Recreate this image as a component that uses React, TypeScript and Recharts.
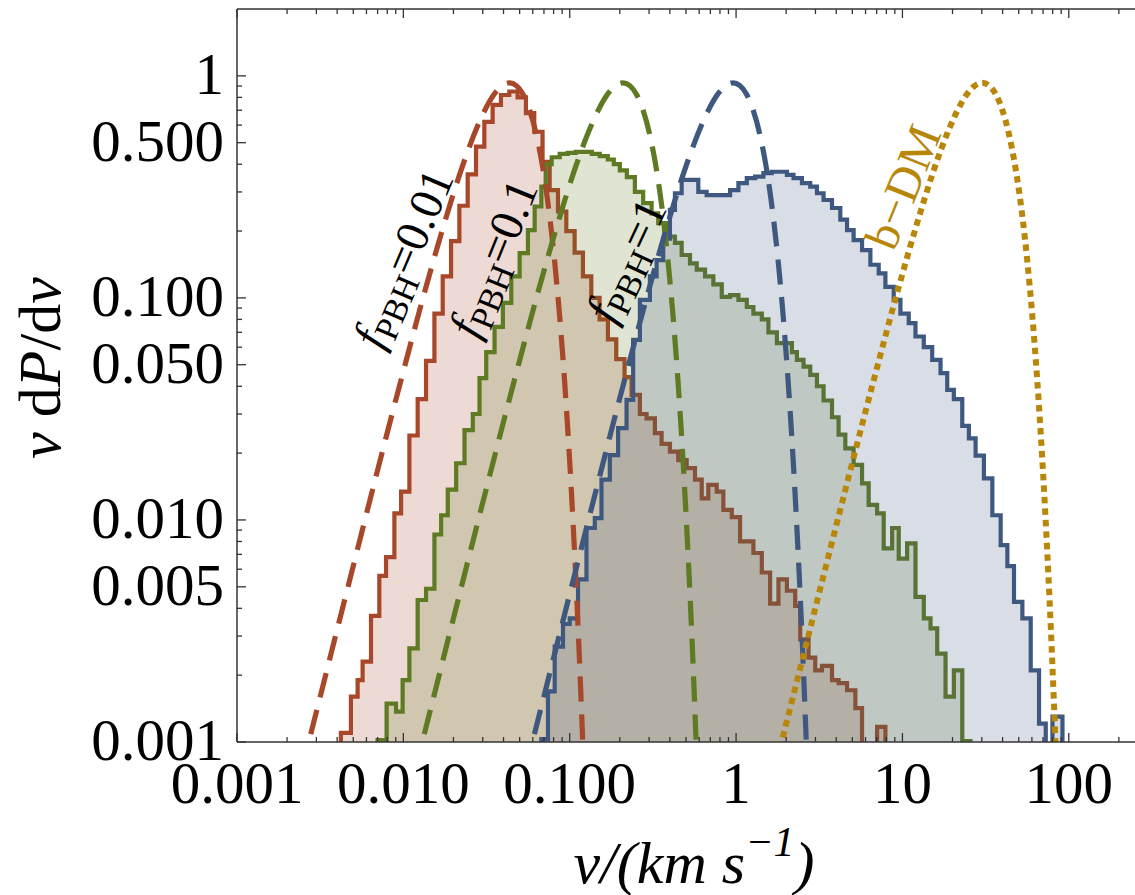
import { ComposedChart, Area, Line, XAxis, YAxis } from 'recharts';

const FONT = '"Liberation Serif", "Times New Roman", serif';
const RED = '#A8472A';
const GREEN = '#5E7A22';
const BLUE = '#3F5880';
const GOLD = '#B8870A';
const AXIS = '#333333';

// axis ticks
const xMajor = [0.001, 0.01, 0.1, 1, 10, 100];
const xMajorLabels = ['0.001', '0.010', '0.100', '1', '10', '100'];
const xMinor = [
  0.002, 0.003, 0.004, 0.005, 0.006, 0.007, 0.008, 0.009,
  0.02, 0.03, 0.04, 0.05, 0.06, 0.07, 0.08, 0.09,
  0.2, 0.3, 0.4, 0.5, 0.6, 0.7, 0.8, 0.9,
  2, 3, 4, 5, 6, 7, 8, 9,
  20, 30, 40, 50, 60, 70, 80, 90, 200,
];
const yMajor = [0.001, 0.005, 0.01, 0.05, 0.1, 0.5, 1];
const yMajorLabels = ['0.001', '0.005', '0.010', '0.050', '0.100', '0.500', '1'];
const yMinor = [
  0.002, 0.003, 0.004, 0.006, 0.007, 0.008, 0.009,
  0.02, 0.03, 0.04, 0.06, 0.07, 0.08, 0.09,
  0.2, 0.3, 0.4, 0.6, 0.7, 0.8, 0.9,
];

// histogram f_PBH = 0.01 (bin left edges, heights)
const redEdges = [
  0.00421, 0.00421, 0.00484, 0.00531, 0.00569, 0.00639, 0.00717, 0.00787, 0.00883, 0.00969,
  0.01087, 0.01219, 0.01369, 0.01537, 0.01724, 0.01935, 0.02171, 0.02436, 0.02733, 0.03067,
  0.03441, 0.03861, 0.04332, 0.04861, 0.05454, 0.06119, 0.06866, 0.07576, 0.08501, 0.09539,
  0.107, 0.1201, 0.1348, 0.1512, 0.1697, 0.1904, 0.2136, 0.2354, 0.2641, 0.2897,
  0.3251, 0.3567, 0.4003, 0.4491, 0.5047, 0.5662, 0.6216, 0.681, 0.765, 0.8385,
  0.9421, 1.057, 1.271, 1.428, 1.602, 1.798, 2.021, 2.267, 2.43, 2.726,
  2.991, 3.283, 3.772, 4.133, 4.645, 5.212, 5.718, 7.041, 7.9,
];
const redValues = [
  0.0001, 0.0011, 0.0016, 0.0019, 0.0023, 0.0037, 0.0056, 0.0068, 0.0107, 0.0134,
  0.024, 0.035, 0.052, 0.085, 0.125, 0.18, 0.26, 0.36, 0.48, 0.62,
  0.74, 0.82, 0.85, 0.8, 0.68, 0.56, 0.41, 0.306, 0.245, 0.2,
  0.16, 0.125, 0.1, 0.08, 0.065, 0.053, 0.044, 0.0366, 0.03, 0.0287,
  0.0246, 0.022, 0.0203, 0.0186, 0.0171, 0.0152, 0.0125, 0.0144, 0.0134, 0.0111,
  0.0103, 0.008, 0.0071, 0.0058, 0.0042, 0.0054, 0.0048, 0.0041, 0.0029, 0.0024,
  0.0021, 0.0022, 0.0019, 0.00184, 0.00171, 0.00142, 0.0001, 0.00117, 0.0001,
];

// histogram f_PBH = 0.1
const greenEdges = [
  0.007, 0.007, 0.00793, 0.00904, 0.0099, 0.01087, 0.01219, 0.01369, 0.01537, 0.01687,
  0.01849, 0.02077, 0.02331, 0.02615, 0.0287, 0.03149, 0.03533, 0.03965, 0.04455, 0.05,
  0.05609, 0.06155, 0.06753, 0.0717, 0.0779, 0.08708, 0.09727, 0.1087, 0.1214, 0.1357,
  0.1516, 0.1694, 0.1841, 0.2001, 0.2205, 0.2464, 0.2764, 0.3106, 0.3403, 0.3823,
  0.429, 0.4709, 0.5284, 0.5799, 0.6508, 0.7301, 0.8203, 0.9203, 1.033, 1.16,
  1.271, 1.428, 1.565, 1.759, 2.165, 2.321, 2.544, 2.791, 3.063, 3.357,
  3.772, 4.133, 4.536, 5.089, 5.718, 6.266, 7.041, 7.715, 8.67, 9.5,
  10.67, 11.98, 13.44, 14.75, 16.18, 18.16, 20.37, 22.89, 25.68,
];
const greenValues = [
  0.0001, 0.00102, 0.00149, 0.00137, 0.0019, 0.00264, 0.00436, 0.0049, 0.0086, 0.0105,
  0.0137, 0.018, 0.0254, 0.03, 0.0435, 0.057, 0.074, 0.095, 0.125, 0.159,
  0.202, 0.258, 0.317, 0.4, 0.43, 0.445, 0.45, 0.455, 0.455, 0.445,
  0.435, 0.42, 0.4, 0.375, 0.35, 0.3, 0.267, 0.24, 0.217, 0.189,
  0.177, 0.156, 0.143, 0.134, 0.125, 0.115, 0.101, 0.103, 0.098, 0.091,
  0.085, 0.08, 0.07, 0.0625, 0.057, 0.0526, 0.049, 0.045, 0.04, 0.0345,
  0.029, 0.0242, 0.021, 0.0177, 0.0146, 0.0117, 0.0107, 0.00745, 0.0092, 0.0067,
  0.00785, 0.0045, 0.0036, 0.00325, 0.0025, 0.0016, 0.0021, 0.00101, 0.0001,
];

// histogram f_PBH = 1
const blueEdges = [
  0.06753, 0.06753, 0.074, 0.08122, 0.09112, 0.1, 0.1122, 0.1261, 0.1415, 0.1552,
  0.1742, 0.1954, 0.2196, 0.2406, 0.2641, 0.3033, 0.3328, 0.3648, 0.4003, 0.429,
  0.4709, 0.5284, 0.5929, 0.6653, 0.747, 0.8385, 0.9203, 1.033, 1.16, 1.302,
  1.46, 1.638, 1.841, 2.021, 2.214, 2.488, 2.791, 3.063, 3.357, 3.772,
  4.232, 4.645, 5.089, 5.718, 6.417, 7.2, 7.9, 8.863, 9.727, 10.91,
  11.98, 13.44, 15.1, 16.94, 18.59, 20.37, 22.89, 25.08, 27.53, 30.89,
  34.71, 38.94, 42.72, 46.83, 52.6, 59.03, 66.23, 72.69, 79.76, 91.62,
];
const blueValues = [
  0.0001, 0.00103, 0.00169, 0.00269, 0.0034, 0.0036, 0.0054, 0.0092, 0.0102, 0.0152,
  0.0196, 0.0259, 0.0347, 0.0647, 0.098, 0.125, 0.148, 0.185, 0.249, 0.296,
  0.34, 0.34, 0.3, 0.29, 0.29, 0.29, 0.306, 0.329, 0.346, 0.352,
  0.365, 0.37, 0.37, 0.358, 0.346, 0.329, 0.317, 0.296, 0.276, 0.254,
  0.225, 0.202, 0.182, 0.164, 0.141, 0.129, 0.112, 0.098, 0.085, 0.077,
  0.067, 0.06, 0.0526, 0.0458, 0.0385, 0.035, 0.0265, 0.0233, 0.0195, 0.0154,
  0.0105, 0.0077, 0.0062, 0.00428, 0.0036, 0.0021, 0.00121, 0.0001, 0.0013, 0.0001,
];

// dashed / dotted analytic curves
const fitValues = [
  0.00074, 0.00207, 0.00578, 0.016, 0.0434, 0.1135, 0.207, 0.275, 0.36, 0.461,
  0.576, 0.697, 0.811, 0.897, 0.93, 0.905, 0.829, 0.704, 0.548, 0.383,
  0.236, 0.148, 0.0845, 0.0429, 0.0191, 0.0073, 0.00236, 0.00038,
];
const redFitV = [
  0.00244, 0.00345, 0.00488, 0.00689, 0.00974, 0.01375, 0.01731, 0.01943, 0.0218, 0.02446,
  0.02745, 0.0308, 0.03454, 0.03876, 0.0435, 0.04768, 0.05229, 0.05733, 0.06286, 0.06895,
  0.0756, 0.081, 0.08678, 0.093, 0.09966, 0.1068, 0.1144, 0.1255,
];
const greenFitV = [
  0.01175, 0.0166, 0.02345, 0.03313, 0.0468, 0.06609, 0.08318, 0.09336, 0.1047, 0.1175,
  0.1319, 0.148, 0.1659, 0.1862, 0.209, 0.2291, 0.2512, 0.2755, 0.302, 0.3313,
  0.3632, 0.3892, 0.417, 0.4468, 0.4788, 0.5131, 0.5497, 0.6028,
];
const blueFitV = [
  0.05395, 0.07622, 0.1077, 0.1522, 0.2149, 0.3036, 0.3821, 0.4288, 0.481, 0.5398,
  0.6058, 0.6797, 0.7622, 0.8554, 0.96, 1.052, 1.154, 1.265, 1.387, 1.522,
  1.668, 1.788, 1.915, 2.052, 2.199, 2.357, 2.525, 2.769,
];
const goldFitV = [
  1.697, 2.398, 3.388, 4.787, 6.762, 9.549, 12.02, 13.49, 15.13, 16.98,
  19.06, 21.38, 23.98, 26.91, 30.2, 33.1, 36.3, 39.8, 43.64, 47.87,
  52.49, 56.23, 60.25, 64.57, 69.19, 74.14, 79.43, 87.1,
];

const pairs = (vs: number[], ps: number[]) => vs.map((v, i) => ({ v, p: ps[i] }));

const redHist = pairs(redEdges, redValues);
const greenHist = pairs(greenEdges, greenValues);
const blueHist = pairs(blueEdges, blueValues);
const redFit = pairs(redFitV, fitValues);
const greenFit = pairs(greenFitV, fitValues);
const blueFit = pairs(blueFitV, fitValues);
const goldFit = pairs(goldFitV, fitValues);

const X_DOMAIN: [number, number] = [0.001, 250];
const Y_DOMAIN: [number, number] = [0.001, 2];

function BottomTick({ x, y, payload }: any) {
  const i = xMajor.indexOf(payload.value);
  return (
    <g>
      <line x1={x} x2={x} y1={y} y2={y - (i >= 0 ? 9 : 5)} stroke={AXIS} strokeWidth={1.3} />
      {i >= 0 && (
        <text x={x} y={y + 61} textAnchor="middle" fontFamily={FONT} fontSize={59} fill="#000">
          {xMajorLabels[i]}
        </text>
      )}
    </g>
  );
}

function TopTick({ x, y, payload }: any) {
  const major = xMajor.includes(payload.value);
  return <line x1={x} x2={x} y1={y} y2={y + (major ? 9 : 5)} stroke={AXIS} strokeWidth={1.3} />;
}

function LeftTick({ x, y, payload }: any) {
  const i = yMajor.indexOf(payload.value);
  return (
    <g>
      <line x1={x} x2={x + (i >= 0 ? 9 : 5)} y1={y} y2={y} stroke={AXIS} strokeWidth={1.3} />
      {i >= 0 && (
        <text x={x - 13} y={y + 18} textAnchor="end" fontFamily={FONT} fontSize={59} fill="#000">
          {yMajorLabels[i]}
        </text>
      )}
    </g>
  );
}

function CurveLabel({ x, y, angle, value }: any) {
  return (
    <text
      transform={`translate(${x},${y}) rotate(${angle})`}
      textAnchor="middle"
      fontFamily={FONT}
      fontSize={47}
      fill="#000"
      y={16}
    >
      <tspan fontStyle="italic">f</tspan>
      <tspan fontSize={34} dy={9}>PBH</tspan>
      <tspan dy={-9}>{value}</tspan>
    </text>
  );
}

export default function App() {
  return (
    <div style={{ position: 'absolute', left: 0, top: 0, width: 1135, height: 895, background: '#fff' }}>
      <ComposedChart width={1135} height={895} margin={{ top: 0, right: 0, bottom: 0, left: 0 }}>
        <XAxis
          xAxisId="b"
          dataKey="v"
          type="number"
          scale="log"
          domain={X_DOMAIN}
          allowDataOverflow
          ticks={[...xMajor, ...xMinor]}
          interval={0}
          tickSize={0}
          tickMargin={0}
          height={153}
          tick={<BottomTick />}
          axisLine={{ stroke: AXIS, strokeWidth: 1.5 }}
          tickLine={false}
        />
        <XAxis
          xAxisId="t"
          orientation="top"
          dataKey="v"
          type="number"
          scale="log"
          domain={X_DOMAIN}
          allowDataOverflow
          ticks={[...xMajor, ...xMinor]}
          interval={0}
          tickSize={0}
          tickMargin={0}
          height={9}
          tick={<TopTick />}
          axisLine={{ stroke: AXIS, strokeWidth: 1.5 }}
          tickLine={false}
        />
        <YAxis
          yAxisId="l"
          type="number"
          scale="log"
          domain={Y_DOMAIN}
          allowDataOverflow
          ticks={[...yMajor, ...yMinor]}
          interval={0}
          tickSize={0}
          tickMargin={0}
          width={237}
          tick={<LeftTick />}
          axisLine={{ stroke: AXIS, strokeWidth: 1.5 }}
          tickLine={false}
        />

        <Area data={redHist} xAxisId="b" yAxisId="l" dataKey="p" type="stepAfter" baseValue={0.001}
          stroke={RED} strokeWidth={4.2} fill={RED} fillOpacity={0.2} dot={false} activeDot={false} isAnimationActive={false} />
        <Area data={greenHist} xAxisId="b" yAxisId="l" dataKey="p" type="stepAfter" baseValue={0.001}
          stroke={GREEN} strokeWidth={4.2} fill={GREEN} fillOpacity={0.2} dot={false} activeDot={false} isAnimationActive={false} />
        <Area data={blueHist} xAxisId="b" yAxisId="l" dataKey="p" type="stepAfter" baseValue={0.001}
          stroke={BLUE} strokeWidth={4.2} fill={BLUE} fillOpacity={0.2} dot={false} activeDot={false} isAnimationActive={false} />

        <Line data={redFit} xAxisId="b" yAxisId="l" dataKey="p" type="monotone" stroke={RED} strokeWidth={5.2}
          strokeDasharray="25 13" dot={false} activeDot={false} isAnimationActive={false} />
        <Line data={greenFit} xAxisId="b" yAxisId="l" dataKey="p" type="monotone" stroke={GREEN} strokeWidth={5.2}
          strokeDasharray="25 13" dot={false} activeDot={false} isAnimationActive={false} />
        <Line data={blueFit} xAxisId="b" yAxisId="l" dataKey="p" type="monotone" stroke={BLUE} strokeWidth={5.2}
          strokeDasharray="25 13" dot={false} activeDot={false} isAnimationActive={false} />
        <Line data={goldFit} xAxisId="b" yAxisId="l" dataKey="p" type="monotone" stroke={GOLD} strokeWidth={6}
          strokeDasharray="6.5 5" dot={false} activeDot={false} isAnimationActive={false} />
      </ComposedChart>

      <svg width={1135} height={895} style={{ position: 'absolute', left: 0, top: 0, pointerEvents: 'none' }}>
        <CurveLabel x={403} y={258} angle={-67} value="=0.01" />
        <CurveLabel x={493} y={258} angle={-68} value="=0.1" />
        <CurveLabel x={626} y={260} angle={-65} value="=1" />
        <text transform="translate(903,187) rotate(-68)" textAnchor="middle" fontFamily={FONT} fontSize={48} fill={GOLD} y={16}>
          b−DM
        </text>

        <text transform="translate(60,368) rotate(-90)" textAnchor="middle" fontFamily={FONT} fontSize={60} fill="#000">
          <tspan fontStyle="italic">v</tspan>
          <tspan>{' d'}</tspan>
          <tspan fontStyle="italic">P</tspan>
          <tspan>{'/d'}</tspan>
          <tspan fontStyle="italic">v</tspan>
        </text>

        <text x={694} y={883} textAnchor="middle" fontFamily={FONT} fontSize={60} fontStyle="italic" fill="#000">
          <tspan>{'v/(km s'}</tspan>
          <tspan fontSize={42} dy={-27}>{'−1'}</tspan>
          <tspan dy={27}>{')'}</tspan>
        </text>
      </svg>
    </div>
  );
}
